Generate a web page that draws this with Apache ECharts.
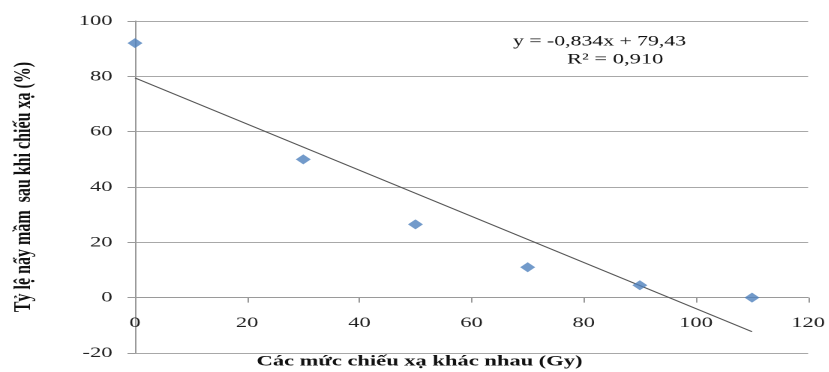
<!DOCTYPE html>
<html>
<head>
<meta charset="utf-8">
<script src="https://cdn.jsdelivr.net/npm/echarts@6/dist/echarts.min.js"></script>
<style>
  html, body { margin: 0; padding: 0; background: #fff; overflow: hidden; }
  /* the source picture is stretched sideways, so the chart is drawn narrow and widened */
  #main { position: absolute; left: 0; top: 0; width: 552.67px; height: 372px;
          transform: scaleX(1.5); transform-origin: 0 0; }
</style>
</head>
<body>
<div id="main"></div>
<script>
const doses = [0, 30, 50, 70, 90, 110];
const germination = [92, 50, 26.5, 11, 4.5, 0];
const trendX = [0, 110];
const trendY = [79.43, -12.31];
const equationText = 'y = -0,834x + 79,43';
const r2Text = 'R² = 0,910';
const xTitle = 'Các mức chiếu xạ khác nhau (Gy)';
const yTitle = 'Tỷ lệ nẩy mầm  sau khi chiếu xạ (%)';

const chart = echarts.init(document.getElementById('main'), null, { devicePixelRatio: 2 });
const serif = '"Liberation Serif", "Times New Roman", serif';

// grid height 332px over 120 units -> the y=0 line sits 20 units above the bottom
const gridH = 332;
const zeroLift = gridH * 20 / 120;

const option = {
  animation: false,
  grid: { left: 90, right: 12.67, top: 21, bottom: 19 },
  graphic: [
    { type: 'text', left: 342, top: 34, style: { text: equationText, font: '14.5px ' + serif, fill: '#111' } },
    { type: 'text', left: 378, top: 52, style: { text: r2Text, font: '15px ' + serif, fill: '#111' } },
    { type: 'text', left: 171, top: 354, style: { text: xTitle, font: 'bold 15px ' + serif, fill: '#111' } }
  ],
  xAxis: {
    type: 'value',
    position: 'bottom',
    offset: -zeroLift,
    min: 0, max: 120, interval: 20,
    axisLine: { show: true, onZero: false, lineStyle: { color: '#9a9a9a', width: 1 } },
    axisTick: { show: true, length: 5, lineStyle: { color: '#9a9a9a' } },
    axisLabel: { margin: 18, fontFamily: serif, fontSize: 15, color: '#222' },
    splitLine: { show: false }
  },
  yAxis: {
    type: 'value',
    min: -20, max: 100, interval: 20,
    name: yTitle,
    nameLocation: 'middle',
    nameGap: 66,
    nameTextStyle: { fontFamily: serif, fontSize: 16, fontWeight: 'bold', color: '#111' },
    axisLine: { show: true, onZero: false, lineStyle: { color: '#9a9a9a', width: 1 } },
    axisTick: { show: true, length: 5, lineStyle: { color: '#9a9a9a' } },
    axisLabel: { margin: 15, fontFamily: serif, fontSize: 15, color: '#222' },
    splitLine: { show: true, lineStyle: { color: '#a8a8a8', width: 1 } }
  },
  series: [
    {
      type: 'scatter',
      data: doses.map((d, i) => [d, germination[i]]),
      symbol: 'diamond',
      symbolSize: [10, 10],
      itemStyle: { color: '#4f81bd' },
      z: 3
    },
    {
      type: 'line',
      data: trendX.map((x, i) => [x, trendY[i]]),
      showSymbol: false,
      lineStyle: { color: '#555', width: 1 },
      z: 2
    }
  ]
};
chart.setOption(option);
</script>
</body>
</html>
